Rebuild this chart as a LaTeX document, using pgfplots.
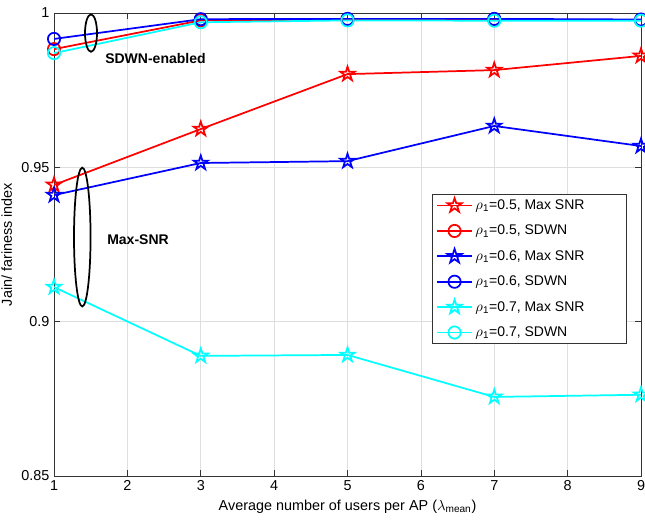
\documentclass[border=0pt]{standalone}
\usepackage{fontspec}
\setmainfont{Liberation Sans}
\usepackage{pgfplots}
\pgfplotsset{compat=1.18}
\usetikzlibrary{calc}

\definecolor{mred}{rgb}{1,0,0}
\definecolor{mblue}{rgb}{0,0,1}
\definecolor{mcyan}{rgb}{0,1,1}

% five-pointed star outline, like MATLAB's pentagram
\pgfdeclareplotmark{pentagram}{%
  \pgfpathmoveto{\pgfpointpolar{90}{\pgfplotmarksize}}%
  \pgfpathlineto{\pgfpointpolar{126}{0.382*\pgfplotmarksize}}%
  \pgfpathlineto{\pgfpointpolar{162}{\pgfplotmarksize}}%
  \pgfpathlineto{\pgfpointpolar{198}{0.382*\pgfplotmarksize}}%
  \pgfpathlineto{\pgfpointpolar{234}{\pgfplotmarksize}}%
  \pgfpathlineto{\pgfpointpolar{270}{0.382*\pgfplotmarksize}}%
  \pgfpathlineto{\pgfpointpolar{306}{\pgfplotmarksize}}%
  \pgfpathlineto{\pgfpointpolar{342}{0.382*\pgfplotmarksize}}%
  \pgfpathlineto{\pgfpointpolar{18}{\pgfplotmarksize}}%
  \pgfpathlineto{\pgfpointpolar{54}{0.382*\pgfplotmarksize}}%
  \pgfpathclose\pgfusepathqstroke}

\pgfplotsset{
  star/.style={line width=1.3pt, mark=pentagram, mark size=5.6pt, mark options={solid}},
  circ/.style={line width=1.3pt, mark=o, mark size=4.6pt, mark options={solid}},
  legend image code/.code={
    \draw[mark repeat=2, mark phase=2, #1]
      plot coordinates {(0pt,0pt) (13pt,0pt) (26pt,0pt)};},
}

\begin{document}
\begin{tikzpicture}
\begin{axis}[
  name=ax,
  scale only axis,
  width=440pt, height=347pt,
  xmin=1, xmax=9, ymin=0.85, ymax=1,
  xtick={1,2,...,9},
  ytick={0.85,0.9,0.95,1},
  yticklabels={0.85,0.9,0.95,1},
  grid=major,
  major grid style={black!13, line width=0.5pt},
  axis line style={black!80, line width=0.5pt},
  tick style={black!80, line width=0.5pt},
  tick align=inside,
  major tick length=4.5pt,
  font=\fontsize{10.8}{13}\selectfont,
  /pgf/number format/assume math mode=true,
  xlabel={Average number of users per AP ($\lambda$\textsubscript{mean})},
  ylabel={Jain/ fariness index},
  legend cell align=left,
  legend style={at={(0.644,0.609)}, anchor=north west,
    draw=black!80, line width=0.5pt, fill=white,
    font=\fontsize{10.5}{12.6}\selectfont, row sep=6.2pt},
]
\addplot[mred, star] coordinates {(1,0.9443) (3,0.9624) (5,0.9802) (7,0.9815) (9,0.9861)};
\addlegendentry{\makebox[108pt][l]{$\rho$\textsubscript{1}=0.5, Max SNR}}
\addplot[mred, circ] coordinates {(1,0.9883) (3,0.9976) (5,0.9979) (7,0.9979) (9,0.9977)};
\addlegendentry{$\rho$\textsubscript{1}=0.5, SDWN}
\addplot[mblue, star] coordinates {(1,0.9410) (3,0.9514) (5,0.9520) (7,0.9634) (9,0.9569)};
\addlegendentry{$\rho$\textsubscript{1}=0.6, Max SNR}
\addplot[mblue, circ] coordinates {(1,0.9916) (3,0.9980) (5,0.9981) (7,0.9981) (9,0.9979)};
\addlegendentry{$\rho$\textsubscript{1}=0.6, SDWN}
\addplot[mcyan, star] coordinates {(1,0.9112) (3,0.8889) (5,0.8892) (7,0.8756) (9,0.8763)};
\addlegendentry{$\rho$\textsubscript{1}=0.7, Max SNR}
\addplot[mcyan, circ] coordinates {(1,0.9870) (3,0.9970) (5,0.9976) (7,0.9975) (9,0.9975)};
\addlegendentry{$\rho$\textsubscript{1}=0.7, SDWN}

\draw[black, line width=1.3pt] (axis cs:1.504,0.9935) ellipse [x radius=4.5pt, y radius=14pt];
\draw[black, line width=1.3pt] (axis cs:1.385,0.9274) ellipse [x radius=6.2pt, y radius=52pt];
\node[anchor=west, font=\fontsize{10.5}{12.6}\selectfont\bfseries, inner sep=0pt]
  at (axis cs:1.695,0.9854) {SDWN-enabled};
\node[anchor=west, font=\fontsize{10.5}{12.6}\selectfont\bfseries, inner sep=0pt]
  at (axis cs:1.722,0.9265) {Max-SNR};
\end{axis}
\pgfresetboundingbox
\path[use as bounding box] ($(ax.south west)+(-40.5pt,-36.75pt)$)
  rectangle ($(ax.north east)+(3pt,9.75pt)$);
\end{tikzpicture}
\end{document}
